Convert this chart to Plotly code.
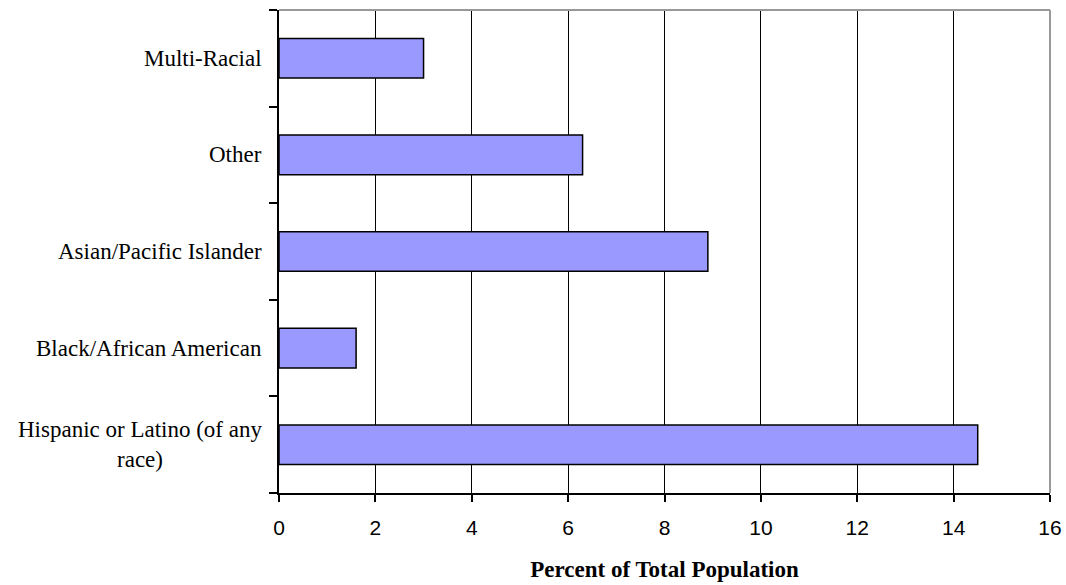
import plotly.graph_objects as go

categories = ["Hispanic or Latino (of any<br>race)", "Black/African American",
              "Asian/Pacific Islander", "Other", "Multi-Racial"]
values = [14.5, 1.6, 8.9, 6.3, 3.0]
x_ticks = [0, 2, 4, 6, 8, 10, 12, 14, 16]
x_title = "Percent of Total Population"

fig = go.Figure()
fig.add_trace(go.Bar(
    y=categories, x=values, orientation="h", width=0.41,
    marker=dict(color="#9999FF", line=dict(color="black", width=1.5)),
    showlegend=False, hoverinfo="x+y",
))

for c in categories:
    fig.add_annotation(
        x=0, xref="paper", y=c, yref="y", text=c, showarrow=False,
        xanchor="right", yanchor="middle", align="center", xshift=-15,
        font=dict(family="Liberation Serif", size=23, color="black"),
    )

fig.update_layout(
    width=1066, height=585, autosize=False,
    margin=dict(l=279, r=16, t=10, b=92, autoexpand=False),
    paper_bgcolor="white", plot_bgcolor="white",
    xaxis=dict(
        range=[0, 16], tickvals=x_ticks, ticktext=[str(t) for t in x_ticks],
        showgrid=True, gridcolor="black", gridwidth=1,
        showline=True, linecolor="black", linewidth=1.5,
        ticks="outside", ticklen=7, tickcolor="black", tickwidth=1.5,
        tickfont=dict(family="Liberation Sans", size=21, color="black"),
        ticklabelstandoff=8, automargin=False,
        zeroline=False,
        title=dict(text="<b>" + x_title + "</b>", standoff=23,
                   font=dict(family="Liberation Serif", size=23, color="black")),
    ),
    yaxis=dict(
        type="category", categoryorder="array", categoryarray=categories,
        range=[-0.5, 4.5], tickson="boundaries",
        showgrid=False, showticklabels=False, automargin=False,
        showline=True, linecolor="black", linewidth=1.5,
        ticks="outside", ticklen=8, tickcolor="black", tickwidth=1.5,
        zeroline=False,
    ),
    shapes=[
        dict(type="line", xref="paper", yref="paper", x0=0, x1=1, y0=1, y1=1,
             line=dict(color="#999999", width=2)),
        dict(type="line", xref="paper", yref="paper", x0=1, x1=1, y0=0, y1=1,
             line=dict(color="#999999", width=2)),
    ],
)

fig.write_html("out.html", config={"displayModeBar": False},
               post_script="document.body.style.margin='0';")
